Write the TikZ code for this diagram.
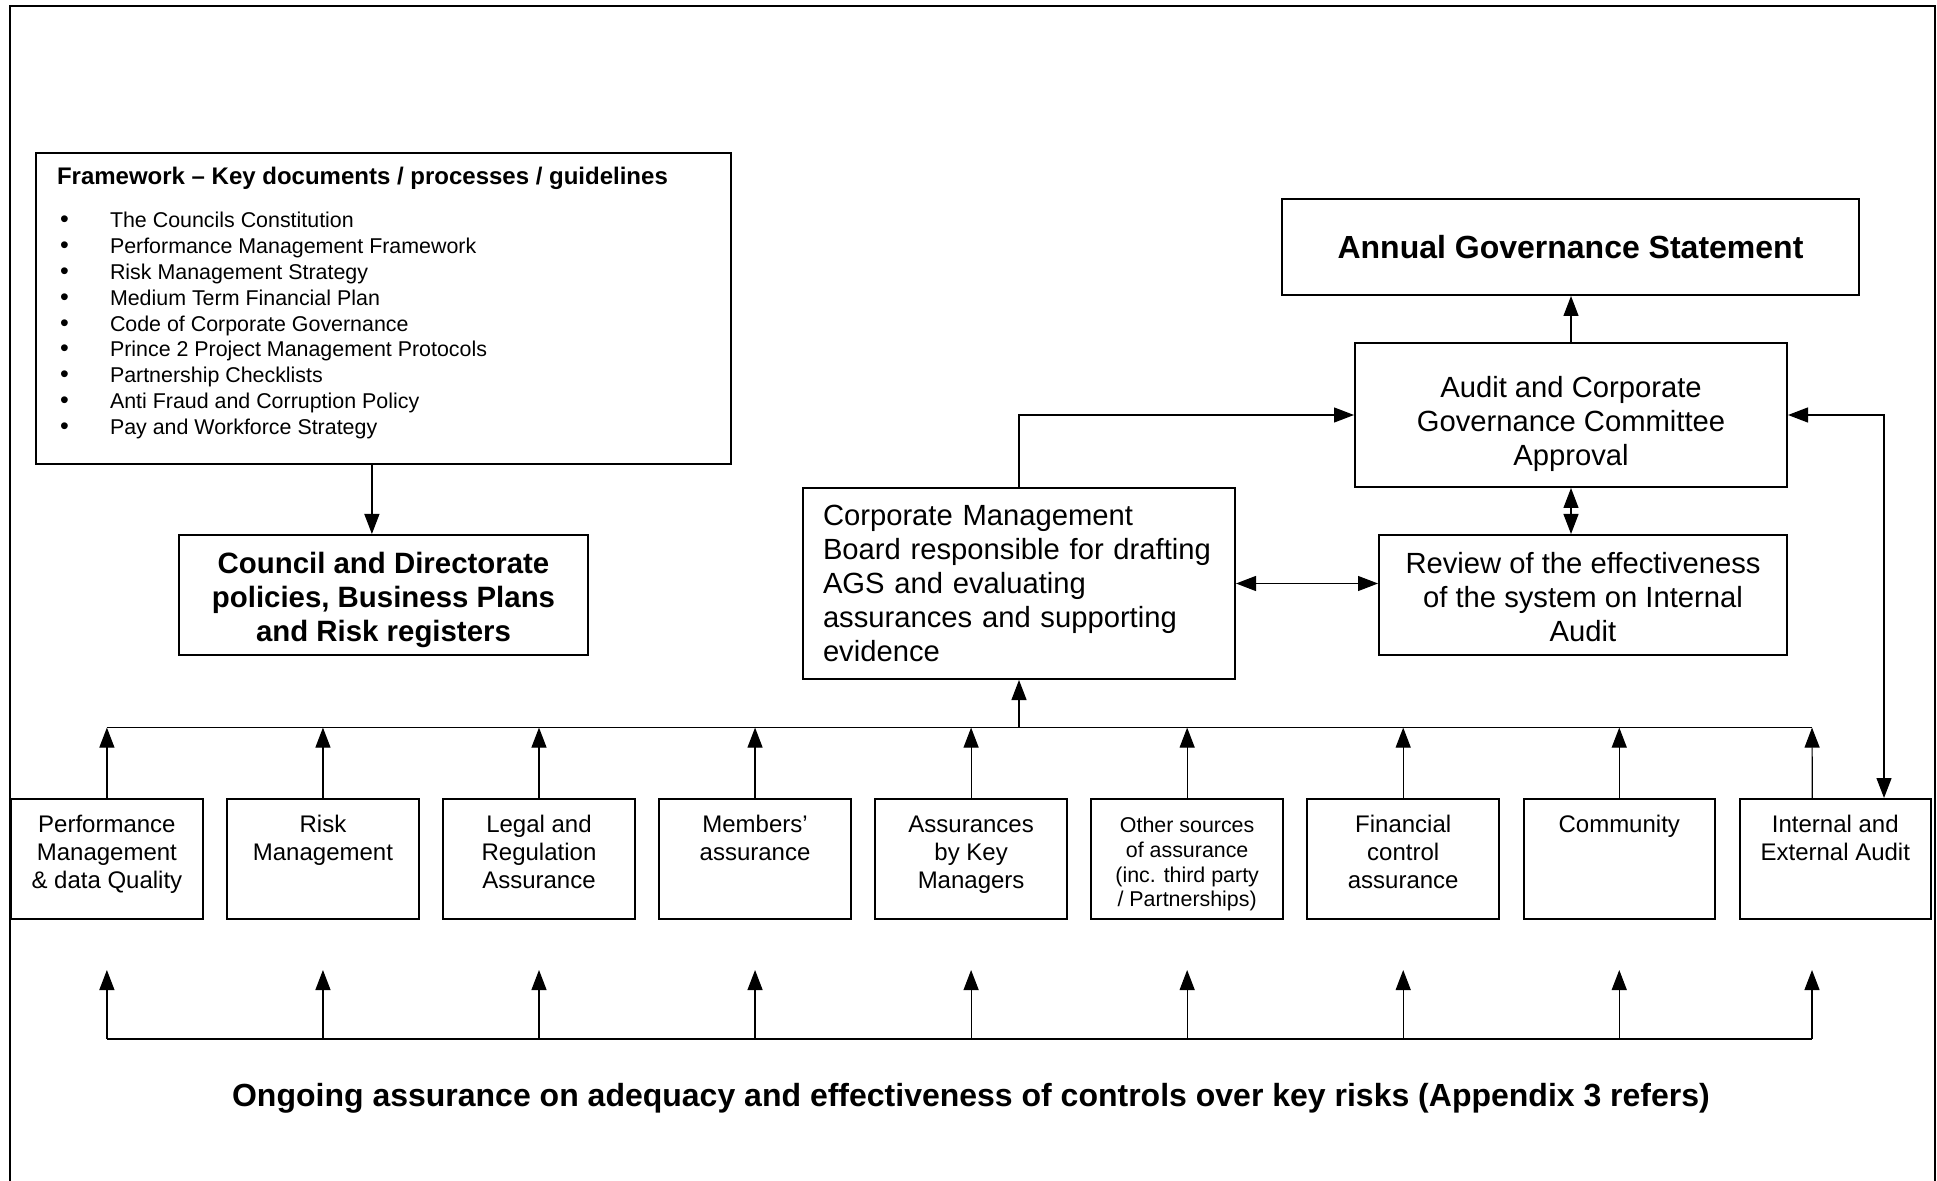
\documentclass[tikz,border=0pt]{standalone}
\usepackage{fontspec}
\setmainfont{Liberation Sans}
\usetikzlibrary{arrows.meta}

\begin{document}
\begin{tikzpicture}
		[x=0.5pt,y=-0.5pt,
		box/.style={draw,line width=1pt,inner sep=0pt,align=center},
		lowbox/.style={draw,line width=1pt,inner sep=0pt,font=\fontsize{12}{13.9}\selectfont},
		link/.style={line width=0.6pt},
		arr/.style={link,-{Triangle[length=10pt,width=7.5pt]}},
		dbl/.style={link,{Triangle[length=10pt,width=7.5pt]}-{Triangle[length=10pt,width=7.5pt]}}]
		\useasboundingbox (0,0) rectangle (1937,1181);
		% outer frame, open at the bottom
		\draw[line width=1pt] (10,1181) -- (10,6) -- (1935,6) -- (1935,1181);

		% framework box with the list of key documents
		\node[box,anchor=north west] (frame) at (34.6,152) {\parbox[c][155.5pt][t]{347.7pt}{%
			\fontsize{12}{14}\selectfont\bfseries
			\hspace*{10.7pt}\rule{0pt}{15.8pt}Framework -- Key documents / processes / guidelines\par
			\vspace{8.5pt}%
			\fontsize{10.7}{12.95}\selectfont\mdseries
			\hspace*{12.2pt}\makebox[25pt][l]{\fontsize{12.5}{12.95}\selectfont\textbullet}The Councils Constitution\par
			\hspace*{12.2pt}\makebox[25pt][l]{\fontsize{12.5}{12.95}\selectfont\textbullet}Performance Management Framework\par
			\hspace*{12.2pt}\makebox[25pt][l]{\fontsize{12.5}{12.95}\selectfont\textbullet}Risk Management Strategy\par
			\hspace*{12.2pt}\makebox[25pt][l]{\fontsize{12.5}{12.95}\selectfont\textbullet}Medium Term Financial Plan\par
			\hspace*{12.2pt}\makebox[25pt][l]{\fontsize{12.5}{12.95}\selectfont\textbullet}Code of Corporate Governance\par
			\hspace*{12.2pt}\makebox[25pt][l]{\fontsize{12.5}{12.95}\selectfont\textbullet}Prince 2 Project Management Protocols\par
			\hspace*{12.2pt}\makebox[25pt][l]{\fontsize{12.5}{12.95}\selectfont\textbullet}Partnership Checklists\par
			\hspace*{12.2pt}\makebox[25pt][l]{\fontsize{12.5}{12.95}\selectfont\textbullet}Anti Fraud and Corruption Policy\par
			\hspace*{12.2pt}\makebox[25pt][l]{\fontsize{12.5}{12.95}\selectfont\textbullet}Pay and Workforce Strategy\par}};
		\node[box,minimum width=204.5pt,minimum height=60pt,font=\fontsize{14.7}{17}\selectfont\bfseries] (council) at (383.5,595)
			{\rule{0pt}{15.7pt}Council and Directorate\\policies, Business Plans\\and Risk registers};

		% governance boxes on the right
		\node[box,minimum width=288.5pt,minimum height=48pt,font=\fontsize{16}{19}\selectfont\bfseries] (ags) at (1570.5,247)
			{Annual Governance Statement};
		\node[box,minimum width=216pt,minimum height=72pt,font=\fontsize{14.6}{17}\selectfont] (audit) at (1571,415)
			{\rule{0pt}{19.2pt}Audit and Corporate\\Governance Committee\\Approval};
		\node[box,minimum width=204pt,minimum height=60pt,font=\fontsize{14.6}{17}\selectfont] (review) at (1583,595)
			{\rule{0pt}{13.1pt}Review of the effectiveness\\of the system on Internal\\Audit};
		\node[box,align=left,text width=196pt,inner xsep=10pt,minimum height=95.5pt,font=\fontsize{14.6}{17}\selectfont] (cmb) at (1019,583.5)
			{Corporate Management\\Board responsible for drafting\\AGS and evaluating\\assurances and supporting\\evidence};

		% row of assurance sources
		\foreach \i/\txt in {1/{Performance\\Management\\\& data Quality},2/{Risk\\Management},
			3/{Legal and\\Regulation\\Assurance},4/{Members’\\assurance},5/{Assurances\\by Key\\Managers},
			6/{\fontsize{10.7}{12.35}\selectfont Other sources\\of assurance\\(inc. third party\\/ Partnerships)},
			7/{Financial\\control\\assurance},8/{Community},9/{Internal and\\External Audit}}
			\node[lowbox] (b\i) at ({106.9+216.05*(\i-1)},859) {\parbox[c][60pt][t]{95.75pt}{\centering\rule{0pt}{16.8pt}\txt}};

		% bus above the row
		\coordinate (busL) at (106.9,727.6);
		\coordinate (busR) at (1812,727.6);
		\draw[link] (busL) -- (busR);
		\foreach \i in {1,...,8}
			\draw[arr] (b\i.north) -- (b\i.north |- busL);
		\draw[arr] ([xshift=-11.5pt]b9.north) -- (busR);
		\draw[arr] (cmb.south |- busL) -- (cmb.south);

		% bus below the row
		\coordinate (lowL) at (106.9,1039);
		\coordinate (lowR) at (1812,1039);
		\draw[link] (lowL) -- (lowR);
		\foreach \i in {1,...,8}
			\draw[arr] (b\i.south |- lowL) -- ++(0,-69);
		\draw[arr] (lowR) -- ++(0,-69);
		\node[font=\fontsize{16}{19}\selectfont\bfseries] (ongoing) at (971,1098)
			{Ongoing assurance on adequacy and effectiveness of controls over key risks (Appendix 3 refers)};

		% links between the upper boxes
		\draw[arr] ([xshift=-5.7pt]frame.south) -- ([xshift=-5.7pt]frame.south |- council.north);
		\draw[arr] (audit.north) -- (audit.north |- ags.south);
		\draw[dbl] (audit.south) -- (audit.south |- review.north);
		\draw[dbl] (cmb.east) -- (cmb.east -| review.west);
		\draw[arr] (cmb.north) |- (audit.west);
		\coordinate (side) at (1884,415);
		\draw[dbl] (audit.east) -- (side) -- (side |- b9.north);
	\end{tikzpicture}
\end{document}
